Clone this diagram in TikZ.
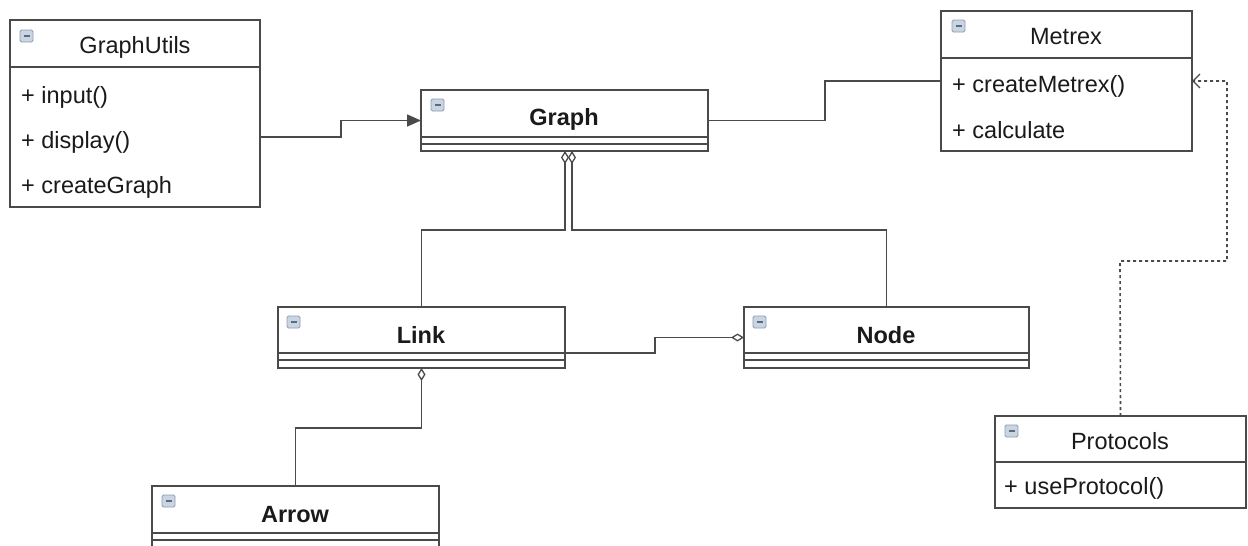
\documentclass[tikz,border=0pt]{standalone}
\usepackage{fontspec}
\setmainfont{Liberation Sans}
\usetikzlibrary{arrows.meta}
\definecolor{linegray}{HTML}{4A4A4A}
\definecolor{iconfill}{HTML}{C9D5E3}
\definecolor{iconedge}{HTML}{8C9DB2}
\definecolor{icondash}{HTML}{5E6B7A}
\definecolor{txt}{HTML}{1A1A1A}
\begin{document}
\begin{tikzpicture}[x=1pt,y=-1pt,
  umlbox/.style={draw=linegray, line width=1.6pt, fill=white, anchor=north west, inner sep=0pt, outer sep=0pt},
  sep/.style={draw=linegray, line width=1.4pt},
  title/.style={font=\fontsize{23.5}{26}\selectfont, text=txt, anchor=base, inner sep=0pt},
  btitle/.style={font=\fontsize{23.5}{26}\selectfont\bfseries, text=txt, anchor=base, inner sep=0pt},
  item/.style={font=\fontsize{23.5}{26}\selectfont, text=txt, anchor=base west, inner sep=0pt},
  conn/.style={draw=linegray, line width=1.6pt},
  agg/.style={conn, {Diamond[open, fill=white, length=13pt, width=8pt, line width=1.3pt]}-},
  icon/.pic={
    \draw[draw=iconedge, fill=iconfill, rounded corners=1.5pt, line width=0.9pt] (0,0) rectangle (13,12);
    \draw[draw=icondash, line width=1.8pt] (3.5,6) -- (9.5,6);
  }]
\useasboundingbox (0,0) rectangle (1248,546);
\clip (0,0) rectangle (1248,546);

% GraphUtils
\node[umlbox, minimum width=250pt, minimum height=187pt] (gu) at (10,20) {};
\draw[sep] (gu.west |- 0,67) -- (gu.east |- 0,67);
\pic at (20,30) {icon};
\node[title] (gut) at (135,53) {GraphUtils};
\node[item] (gu1) at (21,103) {+ input()};
\node[item] (gu2) at (21,148) {+ display()};
\node[item] (gu3) at (21,193) {+ createGraph};

% Graph
\node[umlbox, minimum width=287pt, minimum height=61pt] (gr) at (421,90) {};
\draw[sep] (gr.west |- 0,137) -- (gr.east |- 0,137);
\draw[sep] (gr.west |- 0,144) -- (gr.east |- 0,144);
\pic at (431,99) {icon};
\node[btitle] (grt) at (564,125) {Graph};

% Metrex
\node[umlbox, minimum width=251pt, minimum height=140pt] (me) at (941,11) {};
\draw[sep] (me.west |- 0,58) -- (me.east |- 0,58);
\pic at (952,20) {icon};
\node[title] (met) at (1066,44) {Metrex};
\node[item] (me1) at (952,92) {+ createMetrex()};
\node[item] (me2) at (952,138) {+ calculate};

% Link
\node[umlbox, minimum width=287pt, minimum height=61pt] (lk) at (278,307) {};
\draw[sep] (lk.west |- 0,353) -- (lk.east |- 0,353);
\draw[sep] (lk.west |- 0,360) -- (lk.east |- 0,360);
\pic at (287,316) {icon};
\node[btitle] (lkt) at (421,343) {Link};

% Node
\node[umlbox, minimum width=285pt, minimum height=61pt] (nd) at (744,307) {};
\draw[sep] (nd.west |- 0,353) -- (nd.east |- 0,353);
\draw[sep] (nd.west |- 0,360) -- (nd.east |- 0,360);
\pic at (753,316) {icon};
\node[btitle] (ndt) at (886,343) {Node};

% Arrow
\node[umlbox, minimum width=287pt, minimum height=70pt] (ar) at (152,486) {};
\draw[sep] (ar.west |- 0,533) -- (ar.east |- 0,533);
\draw[sep] (ar.west |- 0,540) -- (ar.east |- 0,540);
\pic at (162,495) {icon};
\node[btitle] (art) at (295,522) {Arrow};

% Protocols
\node[umlbox, minimum width=251pt, minimum height=92pt] (pr) at (995,416) {};
\draw[sep] (pr.west |- 0,462) -- (pr.east |- 0,462);
\pic at (1005,425) {icon};
\node[title] (prt) at (1120,449) {Protocols};
\node[item] (pr1) at (1004,494) {+ useProtocol()};

% connectors
\draw[conn, -{Triangle[length=14pt, width=12pt]}] (gu.east |- 0,137) -| (341,120.5) -- (gr.west);
\draw[conn] (gr.east) -| (825,81) -- (me.west |- 0,81);
\draw[conn, dash pattern=on 3pt off 3pt, -{Straight Barb[length=7pt, width=14pt, line width=1.3pt]}]
  (pr.north) -- (1120,261) -| (1227,81) -- (me.east |- 0,81);
\draw[agg] (gr.south -| 565,0) -- (565,230) -| (lk.north);
\draw[agg] (gr.south -| 572,0) -- (572,230) -| (nd.north);
\draw[conn, -{Diamond[open, fill=white, length=13pt, width=8pt, line width=1.3pt]}] (lk.east |- 0,353) -| (655,337.5) -- (nd.west);
\draw[agg] (lk.south) -- (421.5,428) -| (ar.north);
\end{tikzpicture}
\end{document}
